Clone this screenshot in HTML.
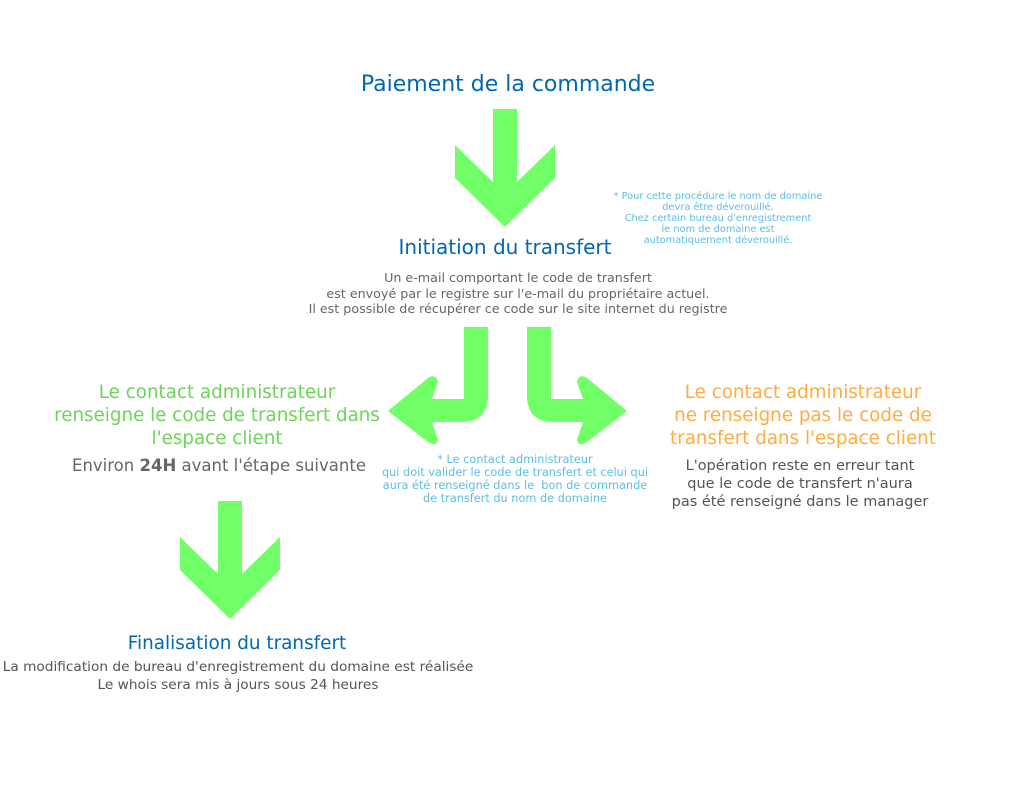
<!DOCTYPE html>
<html><head><meta charset="utf-8"><style>
body{margin:0;width:1024px;height:800px;background:#fff;position:relative;overflow:hidden;font-family:"DejaVu Sans","Liberation Sans",sans-serif}
.t{position:absolute;text-align:center;white-space:nowrap;transform:translateX(-50%)}
</style></head><body>
<svg width="1024" height="800" style="position:absolute;left:0;top:0">
<g fill="#70ff66">
<polygon points="493,109 517,109 517,182 555,145 555,178 505,227 455,178 455,145 493,182"/>
<polygon points="218,501 242,501 242,574 280,537 280,570 230,619 180,570 180,537 218,574"/>
<path d="M464,327 H488 V395 Q488,422 461,422 H432 L438,440 Q436,447 428,442 L388,411 L428,378 Q436,373 438,382 L432,399 H464 Z"/>
<path d="M527,327 H551 V399 H583 L577,382 Q579,373 587,378 L627,411 L587,442 Q579,447 577,440 L583,422 H554 Q527,422 527,395 Z"/>
</g>
</svg>
<div class="t" style="left:508px;top:72px;font-size:22px;color:#0068b0">Paiement de la commande</div>
<div class="t" style="left:718px;top:191px;font-size:9.8px;line-height:11px;color:#5bbfe0">* Pour cette procédure le nom de domaine<br>devra être déverouillé.<br>Chez certain bureau d'enregistrement<br>le nom de domaine est<br>automatiquement déverouillé.</div>
<div class="t" style="left:505px;top:235px;font-size:20px;color:#0068b0">Initiation du transfert</div>
<div class="t" style="left:518px;top:270px;font-size:12.7px;line-height:15.5px;color:#666">Un e-mail comportant le code de transfert<br>est envoyé par le registre sur l'e-mail du propriétaire actuel.<br>Il est possible de récupérer ce code sur le site internet du registre</div>
<div class="t" style="left:217px;top:381px;font-size:18.3px;line-height:23px;color:#6cd45a">Le contact administrateur<br>renseigne le code de transfert dans<br>l'espace client</div>
<div class="t" style="left:219px;top:456px;font-size:16.5px;color:#666">Environ <b>24H</b> avant l'étape suivante</div>
<div class="t" style="left:515px;top:453px;font-size:11.3px;line-height:13px;color:#5bbfe0">* Le contact administrateur<br>qui doit valider le code de transfert et celui qui<br>aura été renseigné dans le &nbsp;bon de commande<br>de transfert du nom de domaine</div>
<div class="t" style="left:803px;top:381px;font-size:18.3px;line-height:23px;color:#ffab40">Le contact administrateur<br>ne renseigne pas le code de<br>transfert dans l'espace client</div>
<div class="t" style="left:800px;top:457px;font-size:14.5px;line-height:18px;color:#555">L'opération reste en erreur tant<br>que le code de transfert n'aura<br>pas été renseigné dans le manager</div>
<div class="t" style="left:237px;top:633px;font-size:18.4px;color:#0068b0">Finalisation du transfert</div>
<div class="t" style="left:238px;top:659px;font-size:13.7px;line-height:17.5px;color:#555">La modification de bureau d'enregistrement du domaine est réalisée<br>Le whois sera mis à jours sous 24 heures</div>
</body></html>
